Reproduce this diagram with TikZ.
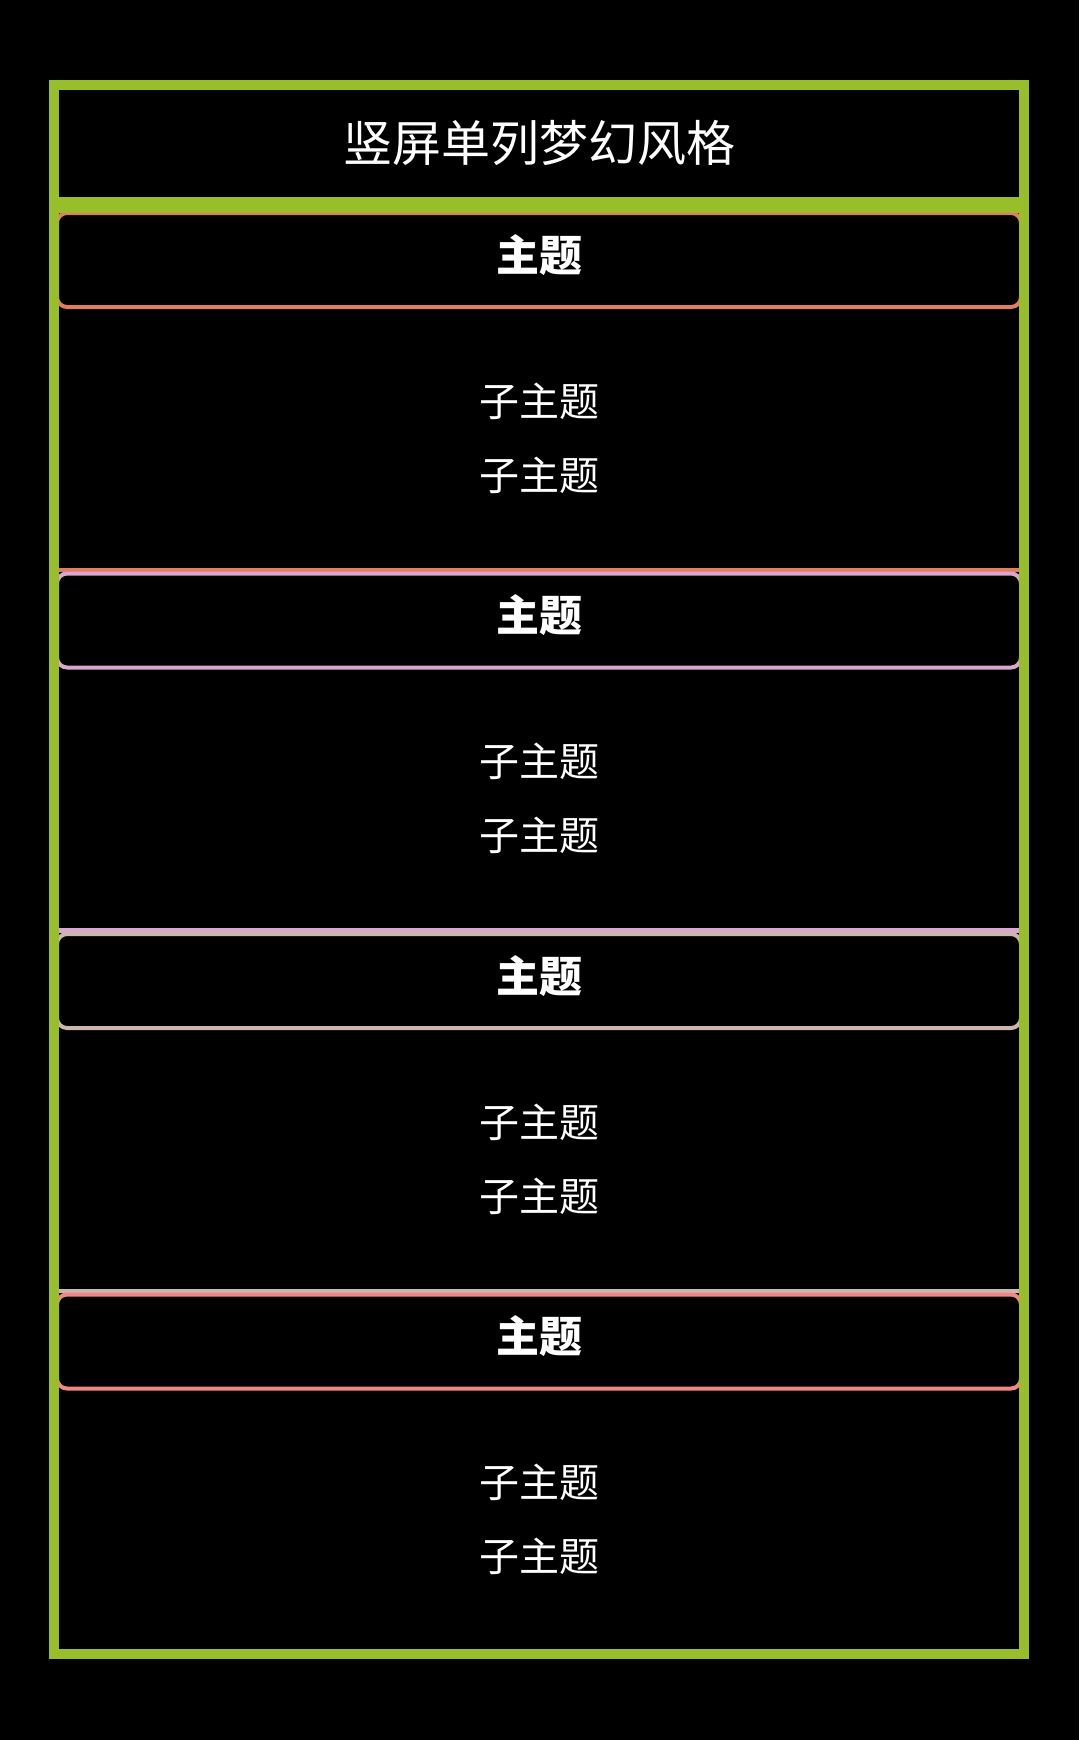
\documentclass[tikz,border=0pt]{standalone}
\usepackage{fontspec}
\setmainfont{Noto Sans CJK SC}
\definecolor{framegreen}{HTML}{98BE2B}
\definecolor{secA}{HTML}{E27D60}
\definecolor{secB}{HTML}{D9A7D1}
\definecolor{secC}{HTML}{CCB7AF}
\definecolor{secD}{HTML}{F08686}
\tikzset{
  topicbox/.style={draw=#1, line width=4pt, fill=black, rounded corners=10pt,
    minimum width=964pt, minimum height=94pt, inner sep=0pt},
  topictext/.style={text=white, inner sep=0pt, font=\fontsize{43}{50}\selectfont\bfseries},
  subtopic/.style={text=white, inner sep=0pt, font=\fontsize{40}{48}\selectfont},
  secframe/.style={draw=#1, line width=4.5pt},
  titletext/.style={text=white, inner sep=0pt, font=\fontsize{49}{58}\selectfont},
}
\begin{document}
\begin{tikzpicture}[x=1pt,y=-1pt]
\useasboundingbox (0,0) rectangle (1079,1740);
\fill[black] (0,0) rectangle (1079,1740);
% section frames (drawn last-to-first so each bottom edge keeps its own colour)
\foreach \i/\col in {3/secD,2/secC,1/secB,0/secA}{
  \pgfmathsetmacro{\T}{209.5+360.5*\i}
  \draw[secframe=\col] (57,\T) rectangle (1021,\T+360.5);
}
% topic boxes and subtopics
\foreach \i/\col in {0/secA,1/secB,2/secC,3/secD}{
  \pgfmathsetmacro{\T}{209.5+360.5*\i}
  \node[topicbox=\col] (topic\i) at (539,\T+50.5) {};
  \node[topictext] (topicT\i) at (539,\T+45.5) {主题};
  \node[subtopic] (subA\i) at (539,\T+191.5) {子主题};
  \node[subtopic] (subB\i) at (539,\T+265.5) {子主题};
}
% title band and outer frame
\fill[framegreen] (54,197) rectangle (1024,213);
\draw[framegreen, line width=10pt] (54,85) rectangle (1024,1654);
\node[titletext] (title) at (539,143) {竖屏单列梦幻风格};
\end{tikzpicture}
\end{document}
